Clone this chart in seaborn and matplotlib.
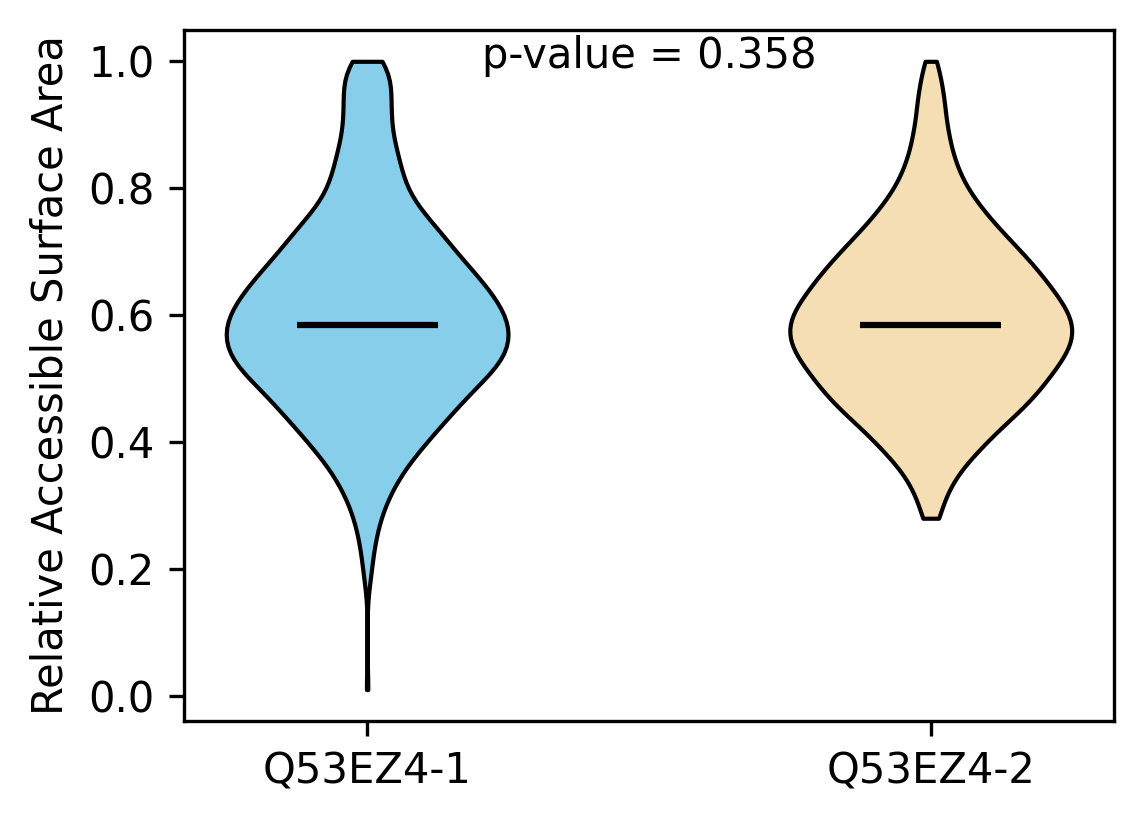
import numpy as np
import pandas as pd
import matplotlib
matplotlib.use("Agg")
import matplotlib.pyplot as plt
import seaborn as sns

# frequency tables of relative accessible surface area values
groups = ["Q53EZ4-1", "Q53EZ4-2"]
colors = ["skyblue", "wheat"]

rsa_1 = [0.01, 0.185, 0.205, 0.225, 0.245, 0.265, 0.285, 0.305, 0.325, 0.345,
         0.365, 0.385, 0.405, 0.425, 0.445, 0.465, 0.485, 0.505, 0.525, 0.545,
         0.565, 0.585, 0.605, 0.625, 0.645, 0.665, 0.685, 0.705, 0.725, 0.745,
         0.765, 0.785, 0.805, 0.825, 0.845, 0.865, 0.885, 0.905, 0.925, 0.945,
         0.965, 0.985, 1.0]
count_1 = [1, 2, 2, 2, 4, 4, 6, 8, 10, 14,
           16, 22, 26, 30, 36, 40, 44, 52, 56, 60,
           60, 60, 58, 54, 50, 46, 40, 36, 32, 28,
           22, 18, 16, 14, 14, 12, 10, 10, 10, 10,
           10, 10, 7]

rsa_2 = [0.28, 0.285, 0.305, 0.325, 0.345, 0.365, 0.385, 0.405, 0.425, 0.445,
         0.465, 0.485, 0.505, 0.525, 0.545, 0.565, 0.585, 0.605, 0.625, 0.645,
         0.665, 0.685, 0.705, 0.725, 0.745, 0.765, 0.785, 0.805, 0.825, 0.845,
         0.865, 0.885, 0.905, 0.925, 0.945, 0.965, 0.985, 1.0]
count_2 = [2, 4, 4, 8, 10, 14, 20, 24, 30, 36,
           42, 46, 50, 54, 58, 60, 60, 58, 54, 50,
           46, 42, 36, 32, 26, 22, 18, 14, 12, 10,
           8, 8, 6, 6, 6, 4, 4, 2]

p_value = 0.358

vals_1 = np.repeat(rsa_1, count_1)
vals_2 = np.repeat(rsa_2, count_2)
df = pd.DataFrame({
    "group": [groups[0]] * len(vals_1) + [groups[1]] * len(vals_2),
    "rsa": np.concatenate([vals_1, vals_2]),
})

fig, ax = plt.subplots(figsize=(3.813, 2.747), dpi=300)
fig.subplots_adjust(left=0.1608, right=0.9738, top=0.9636, bottom=0.125)

sns.violinplot(data=df, x="group", y="rsa", hue="group", palette=colors,
               order=groups, hue_order=groups, legend=False,
               inner=None, cut=0, density_norm="width", width=0.5,
               bw_method=0.18, saturation=1, linecolor="black",
               linewidth=1, ax=ax)

for i, g in enumerate(groups):
    med = df.loc[df["group"] == g, "rsa"].median()
    ax.hlines(med, i - 0.125, i + 0.125, color="black", linewidth=1.5)

ax.set_xlim(-0.325, 1.325)
ax.set_xlabel("")
ax.set_ylabel("Relative Accessible Surface Area")
ax.text(0.5, 0.99, "p-value = {:.3f}".format(p_value), ha="center")

fig.savefig("out.png", dpi=300)
